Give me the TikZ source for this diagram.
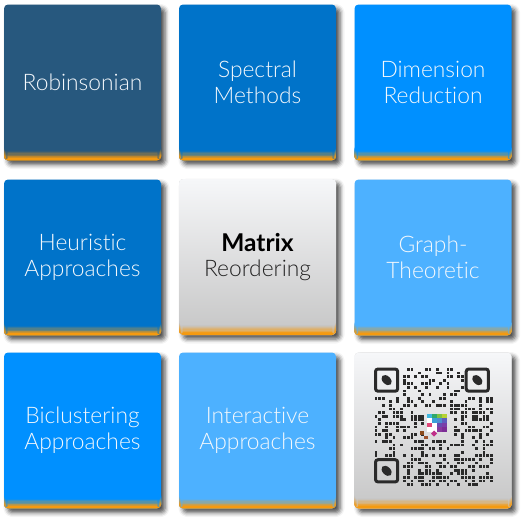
\documentclass[tikz,border=0pt]{standalone}
\usepackage{fontspec}
\setmainfont{Lato Light}[BoldFont={Lato Bold}, Ligatures=NoCommon]
\usetikzlibrary{shadows.blur}

\definecolor{navyblue}{HTML}{27587E}
\definecolor{midblue}{HTML}{0073C9}
\definecolor{brightblue}{HTML}{0090FF}
\definecolor{skyblue}{HTML}{4DB1FF}
\definecolor{barorange}{HTML}{F59A10}
\definecolor{paletop}{HTML}{F6F7F9}
\definecolor{palebottom}{HTML}{C6C6C6}
\definecolor{qrink}{HTML}{2A2A2A}
\definecolor{tiletext}{HTML}{F4F8FC}
\definecolor{subtext}{HTML}{222222}
\definecolor{logobrown}{HTML}{8B4A1C}
\definecolor{logosienna}{HTML}{A0522D}
\definecolor{logopink}{HTML}{C0308A}

\begin{document}
\begin{tikzpicture}[x=1pt,y=-1pt,
  tile/.style={rounded corners=4pt, minimum width=157pt, minimum height=156pt,
    inner sep=0pt, align=center, font=\fontsize{22.8}{25.6}\selectfont,
    text=tiletext, fill=#1,
    blur shadow={shadow xshift=4pt, shadow yshift=-4pt,
      shadow blur radius=4.5pt, shadow opacity=70},
    path picture={%
      % orange base strip fading up into the tile colour
      \foreach \k in {0,...,9}{
        \pgfmathtruncatemacro\mixp{100-\k*10}
        \fill[#1!\mixp!barorange]
          ([yshift=10pt-\k*0.8pt]path picture bounding box.south west)
          rectangle ([yshift=9.1pt-\k*0.8pt]path picture bounding box.south east);
      }
      \fill[barorange] ([yshift=2.3pt]path picture bounding box.south west)
        rectangle (path picture bounding box.south east);}},
  grey tile/.style={tile=palebottom, top color=paletop, bottom color=palebottom},
  qrdot/.style={fill=qrink},
  finder/.style={draw=qrink, line width=3pt, rounded corners=2.5pt},
]
\useasboundingbox (0,0) rectangle (524,522);

% first row
\node[tile=navyblue]   (robinson) at (82.5,82.5)  {Robinsonian};
\node[tile=midblue]    (spectral) at (257.5,82.5) {Spectral\\Methods};
\node[tile=brightblue] (dimred)   at (433,82.5)   {Dimension\\Reduction};

% second row
\node[tile=midblue]    (heuristic) at (82.5,257.5) {Heuristic\\Approaches};
\node[grey tile, text=black] (matrix) at (257.5,257)
  {{\fontsize{24.5}{25.6}\selectfont\bfseries Matrix}\\[-0.5pt]{\color{subtext}Reordering}};
\node[tile=skyblue]    (graph)     at (433,257.5) {Graph-\\Theoretic};

% third row
\node[tile=brightblue] (bicluster)   at (82.5,430.5)  {Biclustering\\Approaches};
\node[tile=skyblue]    (interactive) at (257.5,430.5) {Interactive\\Approaches};
\node[grey tile]       (qrtile)      at (433,430.5)   {};

% QR code inside the last tile
\coordinate (qrorigin) at ([xshift=-59pt,yshift=63pt]qrtile.center);
\pgfmathsetseed{4711}
\foreach \i in {0,...,32}{
  \foreach \j in {0,...,32}{
    \pgfmathtruncatemacro\qskip{(\i<8 && \j<8) || (\i>24 && \j<8) || (\i<8 && \j>24) || (\i>=14 && \i<=20 && \j>=12 && \j<=19)}
    \pgfmathsetmacro\qval{rnd}
    \ifnum\qskip=0
      \ifdim\qval pt<0.46pt
        \fill[qrdot] (qrorigin) ++(\i*3.6+0.5,\j*3.6+0.5) rectangle ++(2.8,2.8);
      \fi
    \fi
  }
}
% finder patterns
\foreach \fx/\fy/\nm in {0/0/fa, 25.2/0/fb, 0/25.2/fc}{
  \draw[finder] (qrorigin) ++(\fx*3.6+1.5,\fy*3.6+1.5) rectangle ++(22.2,22.2);
  \coordinate (\nm) at ([xshift=\fx*3.6pt+12.6pt, yshift=-\fy*3.6pt-12.6pt]qrorigin);
  \fill[qrink, rotate around={-45:(\nm)}] (\nm) ellipse (6pt and 4pt);
}
% logo in the centre of the code
\coordinate (logo) at ([xshift=53pt,yshift=-46pt]qrorigin);
\foreach \cx/\cy/\cc in {0/0/3FB7E0,1/0/2FA86A,2/0/7DC242,3/0/B7D234,
                         0/1/FFFFFF,1/1/3CA0D8,2/1/4E8FD0,3/1/5E5FBE,
                         0/2/E0487A,1/2/FFFFFF,2/2/6A4BB0,3/2/7B3FA8,
                         0/3/FFFFFF,1/3/FFFFFF,2/3/8A3A9E,3/3/7C2E96}{
  \definecolor{logocell}{HTML}{\cc}
  \fill[fill=logocell] (logo) ++(\cx*5,\cy*4.5) rectangle ++(5,4.5);
}
\fill[logobrown] ([xshift=-7pt,yshift=-17pt]logo) rectangle ++(4,4);
\fill[logosienna] ([xshift=-3pt,yshift=-22pt]logo) rectangle ++(3.5,3.5);
\fill[logopink] ([xshift=4pt,yshift=-20pt]logo) -- ++(3,-3) -- ++(3,3) -- ++(-3,3) -- cycle;
\end{tikzpicture}
\end{document}
